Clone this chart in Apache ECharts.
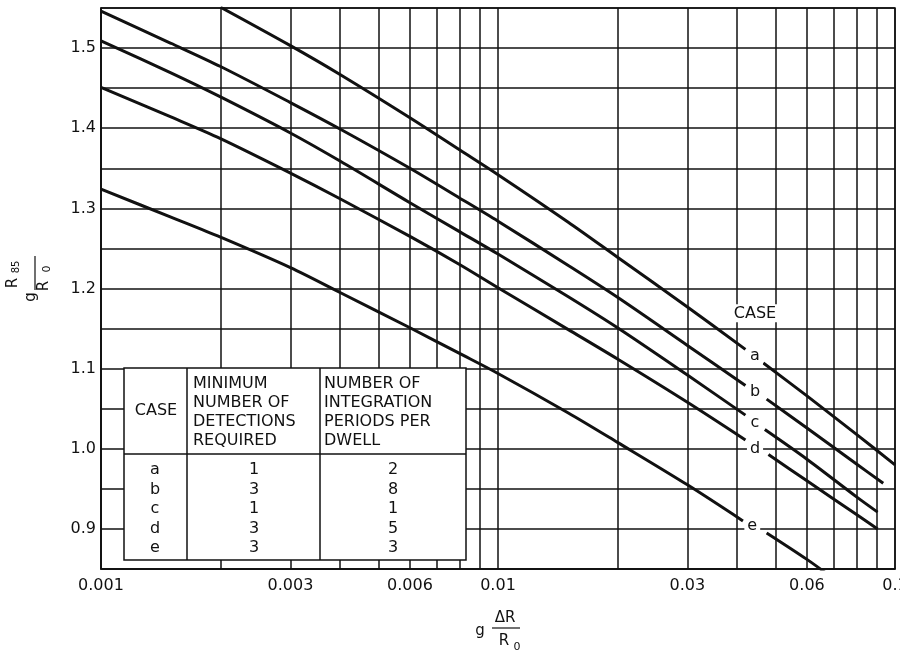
<!DOCTYPE html>
<html>
<head>
<meta charset="utf-8">
<title>R85/R0 vs dR/R0</title>
<script src="https://cdn.jsdelivr.net/npm/echarts@6/dist/echarts.min.js"></script>
<style>
html, body { margin: 0; padding: 0; background: #fff; }
#chart { width: 900px; height: 651px; }
</style>
</head>
<body>
<div id="chart"></div>
<script>
// points: [g*dR/R0, g*R85/R0]
// every curve is cut where its case letter sits
var curveA1 = [[0.002,1.551],[0.003,1.503],[0.004,1.467],[0.006,1.413],[0.008,1.373],[0.01,1.342],[0.015,1.283],[0.02,1.239],[0.03,1.177],[0.042,1.124]]
var curveA2 = [[0.0466,1.107],[0.06,1.066],[0.08,1.018],[0.1,0.98]]
var curveB1 = [[0.001,1.546],[0.0015,1.506],[0.002,1.477],[0.003,1.432],[0.004,1.399],[0.006,1.35],[0.008,1.313],[0.01,1.284],[0.015,1.229],[0.02,1.189],[0.03,1.129],[0.042,1.079]]
var curveB2 = [[0.0475,1.062],[0.06,1.026],[0.08,0.981],[0.0934,0.957]]
var curveC1 = [[0.001,1.509],[0.0015,1.469],[0.002,1.439],[0.003,1.394],[0.004,1.359],[0.006,1.307],[0.008,1.271],[0.01,1.243],[0.015,1.19],[0.02,1.151],[0.03,1.092],[0.042,1.042]]
var curveC2 = [[0.047,1.024],[0.06,0.987],[0.08,0.94],[0.0904,0.921]]
var curveD1 = [[0.001,1.451],[0.0015,1.414],[0.002,1.387],[0.003,1.344],[0.004,1.312],[0.006,1.265],[0.008,1.23],[0.01,1.201],[0.015,1.149],[0.02,1.112],[0.03,1.058],[0.042,1.011]]
var curveD2 = [[0.048,0.993],[0.06,0.96],[0.08,0.918],[0.0904,0.9]]
var curveE1 = [[0.001,1.324],[0.0015,1.289],[0.002,1.264],[0.003,1.226],[0.004,1.195],[0.006,1.151],[0.008,1.119],[0.01,1.094],[0.015,1.045],[0.02,1.008],[0.03,0.955],[0.0414,0.91]]
var curveE2 = [[0.0475,0.895],[0.06,0.862],[0.07,0.838]]

// letters on the curves, in axis units
var caseNames = ['CASE','a','b','c','d','e']
var caseX = [0.0444,0.0444,0.0444,0.0444,0.0444,0.0437]
var caseY = [1.169,1.116,1.071,1.032,1.0,0.904]

// ticks
var xGridValues = [0.001,0.002,0.003,0.004,0.005,0.006,0.007,0.008,0.009,0.01,0.02,0.03,0.04,0.05,0.06,0.07,0.08,0.09,0.1]
var xTickValues = [0.001,0.003,0.006,0.01,0.03,0.06,0.1]
var xTickText = ['0.001','0.003','0.006','0.01','0.03','0.06','0.1']
var yTickText = ['0.9','1.0','1.1','1.2','1.3','1.4','1.5']

// table in the lower left
var tableCases = ['a','b','c','d','e']
var tableDetections = ['1','3','1','3','3']
var tablePeriods = ['2','8','1','5','3']

var ink = '#111'
var font = '"DejaVu Sans", "Liberation Sans", sans-serif'

var chart = echarts.init(document.getElementById('chart'))

function curve(data) {
	return {
		type: 'line',
		data: data,
		showSymbol: false,
		smooth: 0.3,
		lineStyle: { color: ink, width: 3 },
		silent: true,
		z: 3
	}
}

function txt(x, y, s, size, align) {
	return {
		type: 'text', x: x, y: y, z: 101,
		style: {
			text: s, fill: ink, font: size + 'px ' + font,
			textAlign: align || 'center', textVerticalAlign: 'middle',
			align: align || 'center', verticalAlign: 'middle'
		}
	}
}
function seg(x1, y1, x2, y2, w) {
	return { type: 'line', z: 101, shape: { x1: x1, y1: y1, x2: x2, y2: y2 }, style: { stroke: ink, lineWidth: w || 1.5 } }
}

// table drawing
var tbl = [
	{ type: 'rect', z: 100, shape: { x: 124, y: 368, width: 342, height: 192 }, style: { fill: '#fff', stroke: ink, lineWidth: 1.5 } },
	seg(187, 368, 187, 560),
	seg(320, 368, 320, 560),
	seg(124, 454, 466, 454),
	txt(156, 411, 'CASE', 16),
	txt(193, 384, 'MINIMUM', 16, 'left'),
	txt(193, 403, 'NUMBER OF', 16, 'left'),
	txt(193, 422, 'DETECTIONS', 16, 'left'),
	txt(193, 441, 'REQUIRED', 16, 'left'),
	txt(324, 384, 'NUMBER OF', 16, 'left'),
	txt(324, 403, 'INTEGRATION', 16, 'left'),
	txt(324, 422, 'PERIODS PER', 16, 'left'),
	txt(324, 441, 'DWELL', 16, 'left')
]
for (var i = 0; i < tableCases.length; i++) {
	var ry = 470 + i * 19.5
	tbl.push(txt(155, ry, tableCases[i], 16))
	tbl.push(txt(254, ry, tableDetections[i], 16))
	tbl.push(txt(393, ry, tablePeriods[i], 16))
}

// axis titles, written as fractions
var yTitle = {
	type: 'group', x: 35, y: 300, rotation: Math.PI / 2, z: 100,
	children: [
		txt(3, -4, 'g', 15),
		seg(10, 0, 44, 0, 1.2),
		txt(17, -22, 'R', 15),
		txt(33, -19, '85', 10),
		txt(14, 9, 'R', 15),
		txt(31, 12, '0', 11)
	]
}
var xTitle = [
	txt(480, 631, 'g', 15),
	txt(505, 618, 'ΔR', 15),
	seg(492, 628, 520, 628, 1.2),
	txt(504, 641, 'R', 15),
	txt(517, 647, '0', 11)
]

var series = [
	curve(curveA1), curve(curveA2),
	curve(curveB1), curve(curveB2),
	curve(curveC1), curve(curveC2),
	curve(curveD1), curve(curveD2),
	curve(curveE1), curve(curveE2),
	{
		type: 'scatter',
		silent: true,
		symbolSize: 1,
		itemStyle: { color: '#fff', opacity: 1 },
		z: 4,
		data: caseNames.map(function (n, k) { return { name: n, value: [caseX[k], caseY[k]] } }),
		label: {
			show: true, position: 'inside', formatter: '{b}', opacity: 1,
			color: ink, fontFamily: font, fontSize: 16,
			backgroundColor: '#fff', padding: [1, 3]
		}
	}
]

chart.setOption({
	animation: false,
	backgroundColor: '#fff',
	grid: {
		left: 101, right: 5, top: 8, bottom: 82,
		containLabel: false, outerBoundsMode: 'none',
		show: true, borderColor: ink, borderWidth: 1.5, backgroundColor: '#fff'
	},
	xAxis: {
		type: 'log', logBase: 10, min: 0.001, max: 0.1,
		axisLine: { show: true, lineStyle: { color: ink, width: 1.5 } },
		axisTick: { show: false, customValues: xGridValues },
		splitLine: { show: true, lineStyle: { color: ink, width: 1.5 } },
		axisLabel: {
			customValues: xTickValues,
			alignMinLabel: 'center', alignMaxLabel: 'center',
			color: ink, fontFamily: font, fontSize: 16, margin: 9,
			formatter: function (v) {
				for (var k = 0; k < xTickValues.length; k++) {
					if (Math.abs(Math.log10(v / xTickValues[k])) < 0.01) return xTickText[k]
				}
				return ''
			}
		}
	},
	yAxis: {
		type: 'value', min: 0.85, max: 1.55, interval: 0.05,
		axisLine: { show: true, lineStyle: { color: ink, width: 1.5 } },
		axisTick: { show: false },
		splitLine: { show: true, lineStyle: { color: ink, width: 1.5 } },
		axisLabel: {
			color: ink, fontFamily: font, fontSize: 16, margin: 5,
			showMinLabel: true, showMaxLabel: true,
			formatter: function (v) {
				var s = v.toFixed(1)
				if (Math.abs(v - Number(s)) < 1e-6 && yTickText.indexOf(s) >= 0) return s
				return ''
			}
		}
	},
	graphic: tbl.concat([yTitle]).concat(xTitle),
	series: series
})
</script>
</body>
</html>
